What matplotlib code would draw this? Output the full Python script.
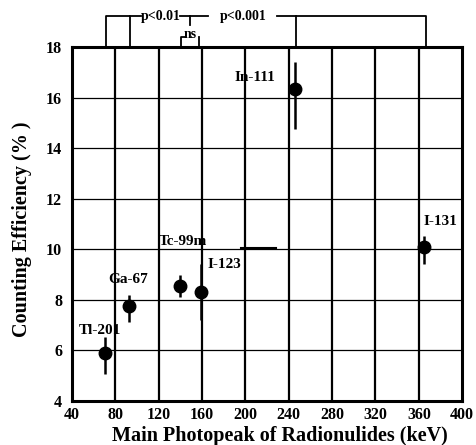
import matplotlib
matplotlib.use("Agg")
import matplotlib.pyplot as plt

isotopes = ["Tl-201", "Ga-67", "Tc-99m", "I-123", "In-111", "I-131"]
energy = [71, 93, 140, 159, 246, 365]
efficiency = [5.9, 7.75, 8.55, 8.3, 16.33, 10.1]
err_low = [0.85, 0.62, 0.45, 1.1, 1.55, 0.7]
err_high = [0.62, 0.43, 0.43, 1.13, 1.1, 0.43]
label_x = [66, 92, 142, 181, 209, 380]
label_y = [6.8, 8.8, 10.3, 9.4, 16.8, 11.1]
xticks = [40, 80, 120, 160, 200, 240, 280, 320, 360, 400]
yticks = [4, 6, 8, 10, 12, 14, 16, 18]

plt.rcParams['font.family'] = ['Liberation Serif', 'DejaVu Serif']
plt.rcParams['font.weight'] = 'bold'

fig = plt.figure(figsize=(4.76, 4.45), dpi=100)
ax = fig.add_axes([0.151, 0.099, 0.820, 0.795])

ax.set_xlim(40, 400)
ax.set_ylim(4, 18)
ax.set_xticks(xticks)
ax.set_yticks(yticks)
ax.tick_params(length=0, labelsize=11.5)
ax.tick_params(axis='x', pad=4)
ax.tick_params(axis='y', pad=7)
for lab in ax.get_xticklabels() + ax.get_yticklabels():
    lab.set_fontweight('bold')

for x in xticks[1:-1]:
    ax.axvline(x, color='black', lw=1.6, zorder=1)
for y in yticks[1:-1]:
    ax.axhline(y, color='black', lw=0.9, zorder=1)
for s in ax.spines.values():
    s.set_linewidth(2.2)

ax.errorbar(energy, efficiency, yerr=[err_low, err_high], fmt='o', color='black',
            ms=9, elinewidth=1.8, capsize=0, zorder=3)

for name, lx, ly in zip(isotopes, label_x, label_y):
    ax.text(lx, ly, name, ha='center', va='center', fontsize=11, fontweight='bold')

# stray short line
ax.plot([196, 228], [10.05, 10.05], color='black', lw=1.5, zorder=2)

ax.set_xlabel("Main Photopeak of Radionulides (keV)", fontsize=14.5, fontweight='bold')
ax.xaxis.set_label_coords(0.532, -0.113)
ax.xaxis.label.set_va('baseline')
ax.set_ylabel("Counting Efficiency (% )", fontsize=14.5, fontweight='bold')
ax.yaxis.set_label_coords(-0.128, 0.486)
ax.yaxis.label.set_va('center')

# significance brackets (x in data, y in axes fraction)
tr = ax.get_xaxis_transform()
top = 1.0
hi = 1.087
kw = dict(color='black', lw=1.3, transform=tr, clip_on=False)
# Tl-201 / Ga-67 group
ax.plot([71.5, 71.5, 93.5, 93.5], [top, hi, hi, top], **kw)
ax.plot([93.5, 104], [hi, hi], **kw)
ax.text(122, hi, "p<0.01", ha='center', va='center', fontsize=10, fontweight='bold', transform=tr)
ax.plot([140, 165.5], [hi, hi], **kw)
ax.plot([148.5, 148.5], [hi, 1.062], **kw)
# ns bracket
ax.plot([140.8, 140.8, 144], [top, 1.03, 1.03], **kw)
ax.plot([157.5, 157.5], [1.03, top], **kw)
ax.text(149, 1.035, "ns", ha='center', va='center', fontsize=10, fontweight='bold', transform=tr)
# p<0.001
ax.text(198, hi, "p<0.001", ha='center', va='center', fontsize=10, fontweight='bold', transform=tr)
ax.plot([229, 367, 367], [hi, hi, top], **kw)
ax.plot([246.5, 246.5], [hi, top], **kw)

fig.savefig("out.png", dpi=100)
